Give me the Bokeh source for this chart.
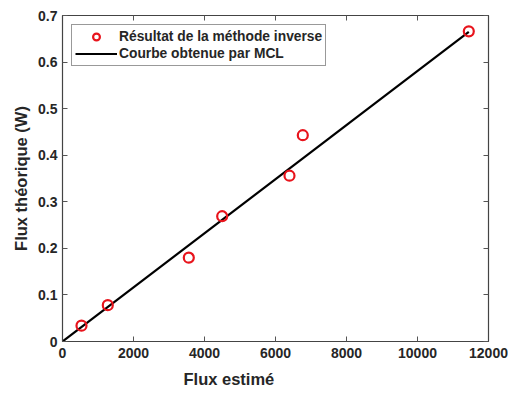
from bokeh.plotting import figure
from bokeh.models import LinearAxis, FixedTicker, Legend, LegendItem, Range1d, Title
from bokeh.embed import file_html
from bokeh.resources import INLINE

# Data
flux_estime = [535, 1276, 3558, 4498, 6394, 6769, 11445]
flux_theorique = [0.034, 0.078, 0.180, 0.269, 0.356, 0.443, 0.666]
fit_x = [0, 11445]
fit_y = [0, 0.665]
x_ticks = [0, 2000, 4000, 6000, 8000, 10000, 12000]
y_ticks = [0, 0.1, 0.2, 0.3, 0.4, 0.5, 0.6, 0.7]
y_tick_labels = ["0", "0.1", "0.2", "0.3", "0.4", "0.5", "0.6", "0.7"]

FONT = "Liberation Sans"

p = figure(width=508, height=396, output_backend="svg", toolbar_location=None,
           x_range=Range1d(0, 12000), y_range=Range1d(0, 0.7),
           min_border_left=62, min_border_right=20, min_border_top=15, min_border_bottom=55)
p.background_fill_color = "white"
p.border_fill_color = "white"
p.grid.visible = False
p.outline_line_color = "#444444"
p.outline_line_width = 1.2

line_r = p.line(fit_x, fit_y, line_color="black", line_width=2.2)
pts_r = p.scatter(flux_estime, flux_theorique, marker="circle", size=10, fill_color=None,
                  line_color="#e8141c", line_width=2.2)

def style_axis(ax, labels=True):
    ax.axis_line_color = "#444444"
    ax.major_tick_line_color = "#555555"
    ax.major_tick_in = 5
    ax.major_tick_out = 0
    ax.minor_tick_line_color = None
    ax.major_label_text_font = FONT
    ax.major_label_text_font_style = "bold"
    ax.major_label_text_font_size = "14px"
    ax.major_label_text_color = "#262626"
    ax.axis_label_text_font = FONT
    ax.axis_label_text_font_style = "bold"
    ax.axis_label_text_font_size = "16.5px"
    ax.axis_label_text_color = "#262626"
    if not labels:
        ax.major_label_text_font_size = "0px"
        ax.major_label_text_color = None

xa = p.xaxis[0]
xa.ticker = FixedTicker(ticks=x_ticks)
style_axis(xa)
xa.major_label_standoff = 6

ya = p.yaxis[0]
ya.ticker = FixedTicker(ticks=y_ticks)
ya.major_label_overrides = {t: s for t, s in zip(y_ticks, y_tick_labels)}
style_axis(ya)
ya.axis_label = "Flux théorique (W)"
ya.axis_label_standoff = 5
ya.major_label_standoff = 5

top = LinearAxis(ticker=FixedTicker(ticks=x_ticks))
style_axis(top, labels=False)
p.add_layout(top, "above")
right = LinearAxis(ticker=FixedTicker(ticks=y_ticks))
style_axis(right, labels=False)
p.add_layout(right, "right")

xlab = Title(text="Flux estimé", align="left", offset=121, standoff=15,
             text_font=FONT, text_font_style="bold", text_font_size="16.5px",
             text_color="#262626")
p.add_layout(xlab, "below")

legend = Legend(items=[LegendItem(label="Résultat de la méthode inverse", renderers=[pts_r]),
                       LegendItem(label="Courbe obtenue par MCL", renderers=[line_r])],
                location="top_left")
legend.label_text_font = FONT
legend.label_text_font_style = "bold"
legend.label_text_font_size = "13.8px"
legend.label_text_color = "#262626"
legend.border_line_color = "#333333"
legend.border_line_width = 1
legend.margin = 9
legend.padding = 3
legend.spacing = 0
legend.glyph_width = 42
legend.glyph_height = 17
legend.label_standoff = 2
legend.label_height = 17
p.add_layout(legend)

open("out.html", "w").write(file_html(p, INLINE))
